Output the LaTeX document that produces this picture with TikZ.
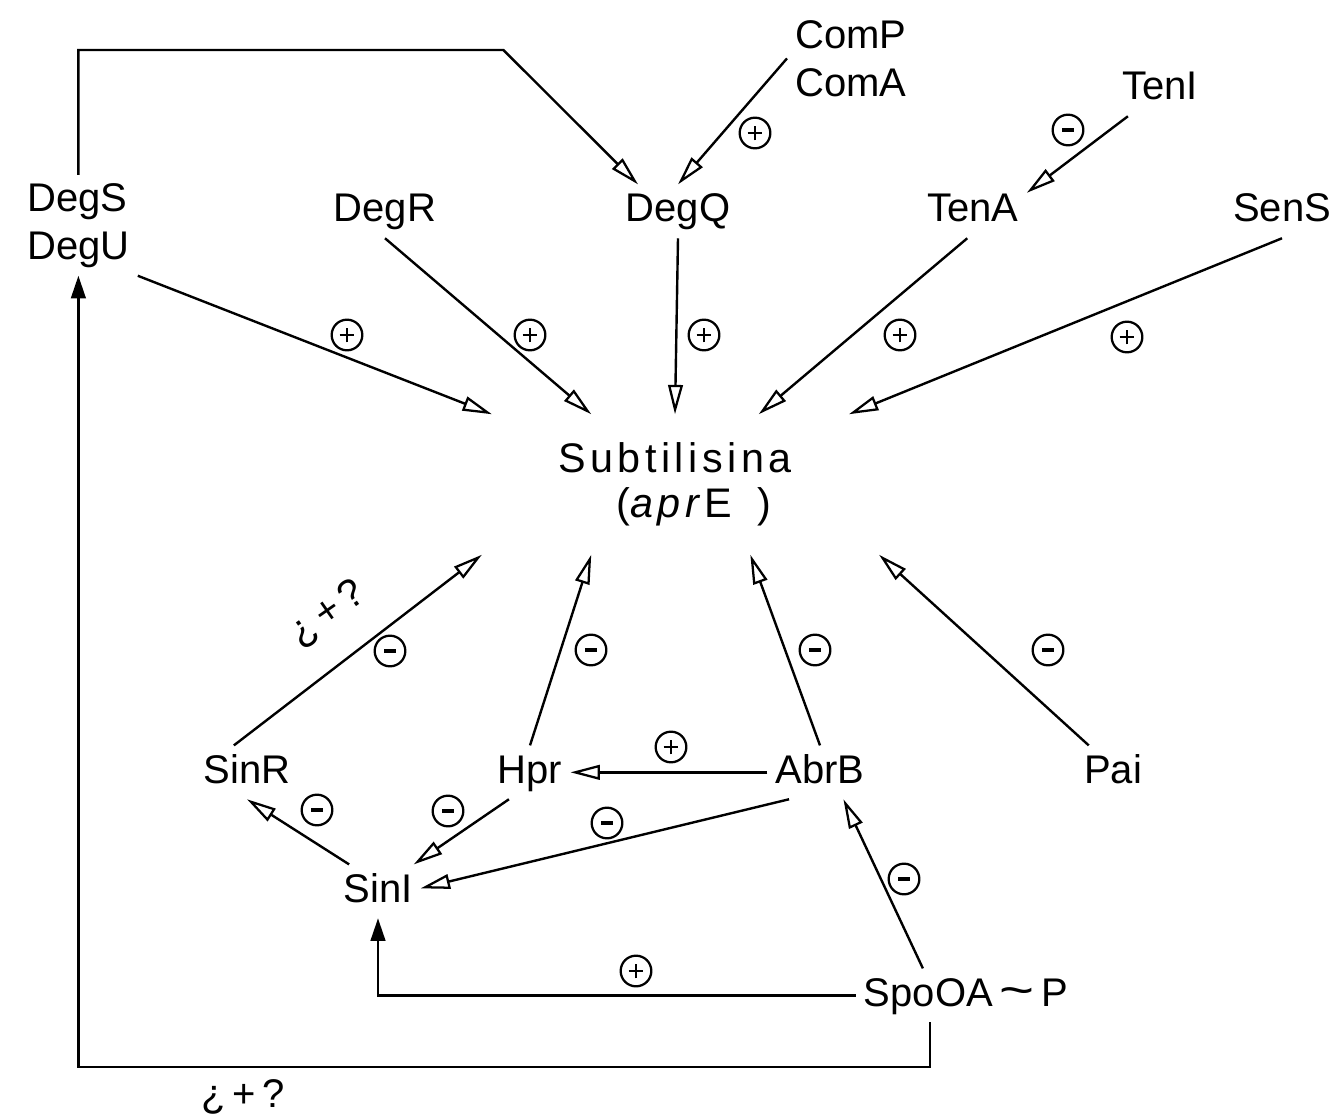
\documentclass[tikz,border=0pt]{standalone}
\usepackage{fontspec}
\setmainfont{Liberation Sans}
\usetikzlibrary{arrows.meta}
\begin{document}
\begin{tikzpicture}[x=0.75pt,y=-0.75pt,
  every node/.style={font=\fontsize{30}{36}\selectfont},
  lbl/.style={inner sep=6pt, text height=22pt, text depth=6pt, anchor=base},
  lbltwo/.style={inner sep=6pt, align=left, anchor=north west},
  subbox/.style={inner sep=0pt, align=center, minimum width=330pt, minimum height=105pt,
    font=\fontsize{31}{34}\selectfont\addfontfeature{LetterSpace=11}},
  conn/.style={line width=1.8pt, -{Triangle[open,length=22pt,width=11pt,line width=1.7pt]}},
  connfill/.style={line width=1.8pt, -{Triangle[length=17pt,width=11pt]}},
  sgn/.style={circle, draw, line width=1.7pt, minimum size=23pt, inner sep=0pt},
  plussign/.style={sgn, path picture={\draw[line width=1.3pt]
      ([xshift=-5.5pt]path picture bounding box.center) -- ([xshift=5.5pt]path picture bounding box.center)
      ([yshift=-5.5pt]path picture bounding box.center) -- ([yshift=5.5pt]path picture bounding box.center);}},
  minussign/.style={sgn, path picture={\draw[line width=2.6pt]
      ([xshift=-4.5pt]path picture bounding box.center) -- ([xshift=4.5pt]path picture bounding box.center);}},
]
\fill[white] (0,0) rectangle (1340,1120);
\useasboundingbox (0,0) rectangle (1340,1120);

% nodes
\node[lbltwo] (degsu) at (19,175) {DegS\\DegU};
\node[lbltwo] (compa) at (787,12) {ComP\\ComA};
\node[lbl] (teni) at (1160,100) {TenI};
\node[lbl] (degr) at (385,222) {DegR};
\node[lbl] (degq) at (678,222) {DegQ};
\node[lbl] (tena) at (973,222) {TenA};
\node[lbl] (sens) at (1282,222) {SenS};
\node[subbox] (sub) at (675,484.5) {Subtilisina\\\hspace*{0.9em}(\textit{apr}E\hspace{0.6em})};
\node[lbl] (sinr) at (247,783) {SinR};
\node[lbl] (hpr) at (530,783) {Hpr};
\node[lbl] (abrb) at (820,783) {AbrB};
\node[lbl] (pai) at (1113,783) {Pai};
\node[lbl] (sini) at (378,902) {SinI};
\node[lbl] (spooa) at (966,1006) {SpoOA\,\scalebox{1.5}[1.2]{\textasciitilde}\,P};

% connectors
\draw[conn] (degsu.north) -- ++(0,-125) -- ++(425,0) -- (degq.146);
\draw[conn] (compa.west) -- (degq.north);
\draw[conn] (teni.220) -- (tena.19);
\draw[conn] (degsu.south east) -- (sub.159);
\draw[conn] (degr.south) -- (sub.140);
\draw[conn] (degq.south) -- (sub.north);
\draw[conn] (tena.258) -- (sub.40);
\draw[conn] (sens.south) -- (sub.22);
\draw[conn] (sinr.116) -- (sub.200);
\draw[conn] (hpr.north) -- (sub.220);
\draw[conn] (abrb.north) -- (sub.317);
\draw[conn] (pai.132) -- (sub.341);
\draw[conn] (abrb.west) -- (hpr.east);
\draw[conn] (abrb.221) -- (sini.4);
\draw[conn] (hpr.232) -- (sini.37);
\draw[conn] (sini.137) -- (sinr.south);
\draw[conn] (spooa.148) -- (abrb.311);
\draw[connfill] (spooa.west) -| (sini.south);
\draw[connfill] (spooa.217) -- ++(0,45) -| (degsu.south);

% signs
\node[plussign] (p1) at (755,133) {};
\node[minussign] (m1) at (1068,130) {};
\node[plussign] (p2) at (347,335) {};
\node[plussign] (p3) at (530,335) {};
\node[plussign] (p4) at (704,335) {};
\node[plussign] (p5) at (900,335) {};
\node[plussign] (p6) at (1127,337) {};
\node[minussign] (m2) at (390,651) {};
\node[minussign] (m3) at (591,650) {};
\node[minussign] (m4) at (815,650) {};
\node[minussign] (m5) at (1048,650) {};
\node[plussign] (p7) at (671,747) {};
\node[minussign] (m6) at (607,823) {};
\node[minussign] (m7) at (448,811) {};
\node[minussign] (m8) at (317,810) {};
\node[minussign] (m9) at (904,879) {};
\node[plussign] (p8) at (636,971) {};
\node[rotate=35, inner sep=1pt] (q1) at (328,614) {¿\,+\,?};
\node (q2) at (243,1097) {¿\,+\,?};
\end{tikzpicture}
\end{document}
